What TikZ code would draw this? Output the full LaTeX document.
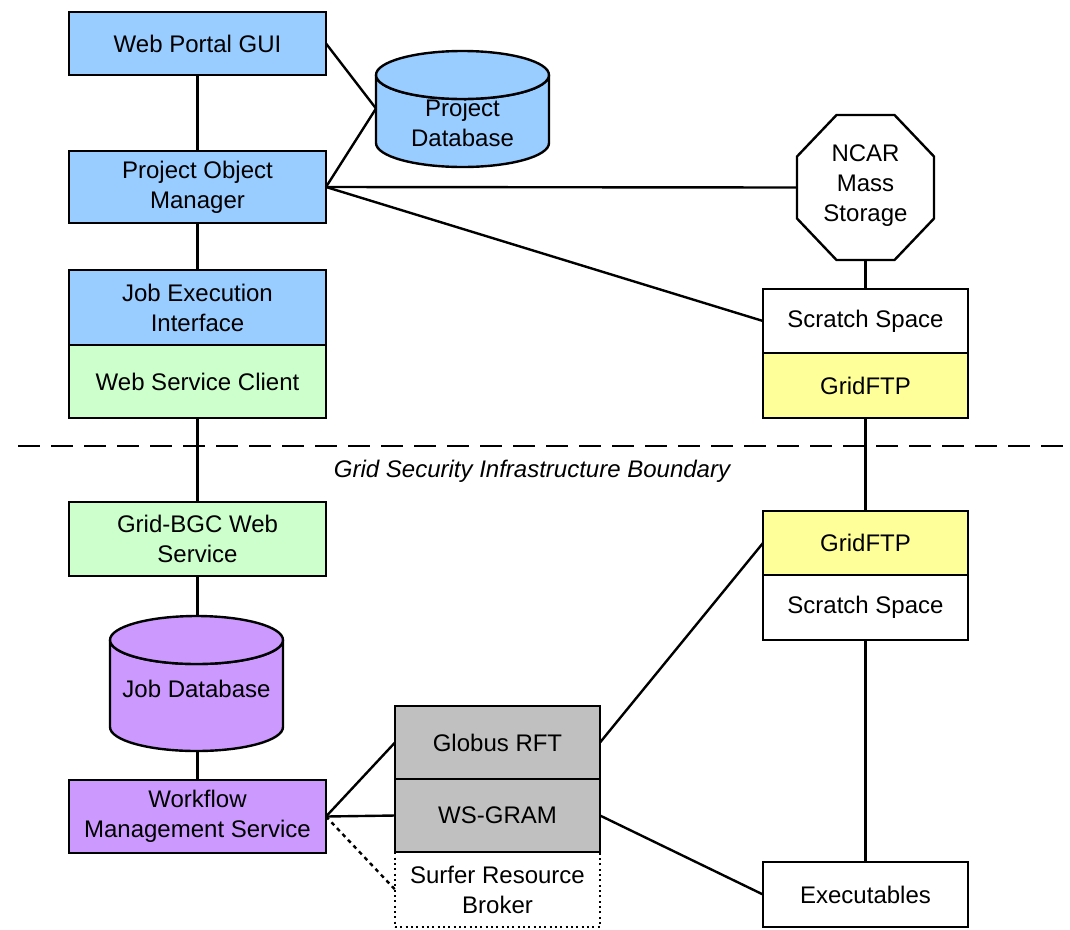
\documentclass[tikz,border=0pt]{standalone}
\usepackage{fontspec}
\setmainfont{Liberation Sans}
\usetikzlibrary{calc}
\definecolor{lblue}{HTML}{99CCFF}
\definecolor{lgreen}{HTML}{CCFFCC}
\definecolor{lyellow}{HTML}{FFFF99}
\definecolor{lpurple}{HTML}{CC99FF}
\definecolor{lgray}{HTML}{C0C0C0}
\tikzset{
  box/.style={draw, line width=1.8pt, rectangle, inner sep=0pt, outer sep=0pt,
    align=center, font=\fontsize{18}{22.5}\selectfont},
  wide/.style={minimum width=192.75pt},
  narrow/.style={minimum width=153.75pt},
  conn/.style={line width=1.8pt},
  holder/.style={rectangle, inner sep=0pt, outer sep=0pt, align=center,
    font=\fontsize{18}{22.5}\selectfont},
  shapeline/.style={line width=1.8pt},
}
\begin{document}
\begin{tikzpicture}[x=0.75pt,y=-0.75pt]
\useasboundingbox (0,0) rectangle (1070,929);

% upper left column
\node[box, wide, fill=lblue, minimum height=47.25pt] (wpg) at (197.5,43.5) {Web Portal GUI};
\node[box, wide, fill=lblue, minimum height=54pt] (pom) at (197.5,187) {Project Object\\Manager};
\node[box, wide, fill=lblue, minimum height=56.25pt] (jei) at (197.5,307.5) {Job Execution\\Interface};
\node[box, wide, fill=lgreen, minimum height=54.75pt] (wsc) at (197.5,381.5) {Web Service Client};

% project database cylinder
\node[holder, minimum width=129.75pt, minimum height=87.75pt] (pdb) at (462.5,108.5) {};
\filldraw[shapeline, fill=lblue] (376,75) -- (376,143)
  arc[start angle=180, end angle=0, x radius=86.5, y radius=24] -- (549,75)
  arc[start angle=0, end angle=180, x radius=86.5, y radius=24] -- cycle;
\filldraw[shapeline, fill=lblue] (462.5,75) ellipse[x radius=86.5, y radius=24];
\node[holder] (pdbt) at (462.5,123) {Project\\Database};

% NCAR mass storage octagon
\node[holder, minimum width=102.75pt, minimum height=108.75pt] (ncar) at (865.5,187.5) {};
\filldraw[shapeline, fill=white, line join=miter]
  ($(ncar.center)+(-29,-72.5)$) -- ($(ncar.center)+(29,-72.5)$) --
  ($(ncar.center)+(68.5,-31)$) -- ($(ncar.center)+(68.5,31)$) --
  ($(ncar.center)+(29,72.5)$) -- ($(ncar.center)+(-29,72.5)$) --
  ($(ncar.center)+(-68.5,31)$) -- ($(ncar.center)+(-68.5,-31)$) -- cycle;
\node[holder] (ncart) at (865.5,186) {NCAR\\Mass\\Storage};

% upper right
\node[box, narrow, fill=white, minimum height=48pt] (ss1) at (865.5,321) {Scratch Space};
\node[box, narrow, fill=lyellow, minimum height=48.75pt] (gf1) at (865.5,385.5) {GridFTP};

% boundary
\coordinate (bl) at (18,446);
\coordinate (br) at (1070,446);
\draw[conn, dash pattern=on 16.5pt off 8.25pt] (bl) -- (br);
\node[holder, font=\fontsize{18}{22.5}\selectfont\itshape] (gsib) at (532,471) {Grid Security Infrastructure Boundary};

% lower left column
\node[box, wide, fill=lgreen, minimum height=55.5pt] (bgc) at (197.5,539) {Grid-BGC Web\\Service};
\node[holder, minimum width=129.75pt, minimum height=102pt] (jdb) at (196.5,683.5) {};
\filldraw[shapeline, fill=lpurple] (110,640) -- (110,727)
  arc[start angle=180, end angle=0, x radius=86.5, y radius=24] -- (283,640)
  arc[start angle=0, end angle=180, x radius=86.5, y radius=24] -- cycle;
\filldraw[shapeline, fill=lpurple] (196.5,640) ellipse[x radius=86.5, y radius=24];
\node[holder] (jdbt) at (196.5,689) {Job Database};
\node[box, wide, fill=lpurple, minimum height=54.75pt] (wms) at (197.5,816.5) {Workflow\\Management Service};

% middle bottom
\node[box, narrow, fill=none, line width=1.6pt, dash pattern=on 1.6pt off 2.4pt, minimum height=56.25pt] (srb) at (497.5,889.5) {Surfer Resource\\Broker};
\node[box, narrow, fill=lgray, minimum height=54.75pt] (rft) at (497.5,742.5) {Globus RFT};
\node[box, narrow, fill=lgray, minimum height=54.75pt] (gram) at (497.5,815.5) {WS-GRAM};

% lower right
\node[box, narrow, fill=lyellow, minimum height=48pt] (gf2) at (865.5,543) {GridFTP};
\node[box, narrow, fill=white, minimum height=48.75pt] (ss2) at (865.5,607.5) {Scratch Space};
\node[box, narrow, fill=white, minimum height=48.75pt] (exe) at (865.5,894.5) {Executables};

% connectors
\draw[conn] (wpg.south) -- (pom.north);
\draw[conn] (pom.south) -- (jei.north);
\draw[conn] (wpg.east) -- (pdb.west);
\draw[conn] (pom.east) -- (pdb.west);
\draw[conn] (pom.east) -- (ncar.west);
\draw[conn] (pom.east) -- (ss1.west);
\draw[conn] (ncar.south) -- (ss1.north);
\draw[conn] (wsc.south) -- (bgc.north);
\draw[conn] (gf1.south) -- (gf2.north);
\draw[conn] (bgc.south) -- ($(jdb.north)+(1,0)$);
\draw[conn] ($(jdb.south)+(1,0)$) -- (wms.north);
\draw[conn] (wms.east) -- (rft.west);
\draw[conn] (wms.east) -- (gram.west);
\draw[conn, dash pattern=on 3pt off 3pt] (wms.east) -- (srb.west);
\draw[conn] (rft.east) -- (gf2.west);
\draw[conn] (gram.east) -- (exe.west);
\draw[conn] (ss2.south) -- (exe.north);
\end{tikzpicture}
\end{document}
